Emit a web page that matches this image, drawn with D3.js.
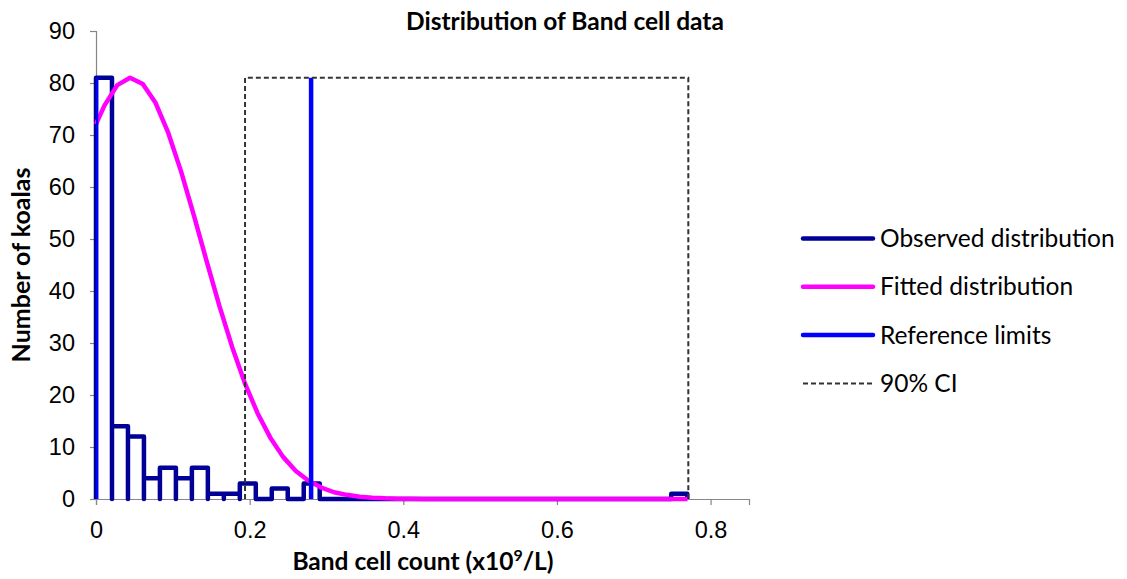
<!DOCTYPE html>
<html>
<head>
<meta charset="utf-8">
<script src="https://cdn.jsdelivr.net/npm/d3@7"></script>
<style>
  body { margin: 0; background: #fff; }
  svg { display: block; font-family: Lato, "Open Sans", sans-serif; }
</style>
</head>
<body>
<div id="chart"></div>
<script>
// observed histogram: 37 bins of equal width starting at 0
const binWidth = 0.0208;
const observedCounts = [81, 14, 12, 4, 6, 4, 6, 1, 1, 3, 0, 2, 0, 3, 0, 0, 0, 0, 0, 0,
  0, 0, 0, 0, 0, 0, 0, 0, 0, 0, 0, 0, 0, 0, 0, 0, 1];

// fitted curve
const fittedX = [0, 0.0111, 0.0277, 0.0443, 0.0609, 0.0775, 0.0941, 0.1107, 0.1273, 0.1439,
  0.1605, 0.1771, 0.1937, 0.2103, 0.2269, 0.2435, 0.2601, 0.2767, 0.2933, 0.3099,
  0.3265, 0.3431, 0.3597, 0.3763, 0.3929, 0.4095, 0.4261, 0.5, 0.6, 0.7, 0.77];
const fittedY = [72.1, 75.7, 79.6, 81.0, 79.8, 76.2, 70.4, 63.0, 54.6, 45.8,
  37.2, 29.3, 22.3, 16.5, 11.8, 8.1, 5.4, 3.5, 2.2, 1.3,
  0.8, 0.45, 0.25, 0.13, 0.07, 0.03, 0.01, 0, 0, 0, 0];

const referenceLimits = [0, 0.28];
const ciLimits = [0.194, 0.771];
const limitHeight = 81;

const xTicks = [0, 0.2, 0.4, 0.6, 0.8];
const yTicks = [0, 10, 20, 30, 40, 50, 60, 70, 80, 90];

const legendItems = ["Observed distribution", "Fitted distribution", "Reference limits", "90% CI"];

const width = 1127, height = 579;
const margin = { top: 31, right: 378, bottom: 80, left: 96 };

const x = d3.scaleLinear().domain([0, 0.85]).range([margin.left, width - margin.right]);
const y = d3.scaleLinear().domain([0, 90]).range([height - margin.bottom, margin.top]);

const svg = d3.select("#chart").append("svg")
  .attr("width", width)
  .attr("height", height);

svg.append("defs").append("clipPath").attr("id", "plot-clip")
  .append("rect")
  .attr("x", x(0)).attr("y", 0)
  .attr("width", x(0.85) - x(0)).attr("height", y(0) + 3);

// axes
const axisColor = "#868686";
const yAxis = svg.append("g")
  .attr("transform", `translate(${x(0)},0)`)
  .call(d3.axisLeft(y).tickValues(yTicks).tickSize(6).tickPadding(15).tickFormat(d3.format("d")));
const xAxis = svg.append("g")
  .attr("transform", `translate(0,${y(0)})`)
  .call(d3.axisBottom(x).tickValues(xTicks).tickSize(6).tickPadding(16)
    .tickFormat(d => d === 0 ? "0" : d3.format(".1f")(d)));

[yAxis, xAxis].forEach(g => {
  g.select(".domain").attr("stroke", axisColor).attr("stroke-width", 1.2);
  g.selectAll(".tick line").attr("stroke", axisColor).attr("stroke-width", 1.2);
  g.selectAll(".tick text").attr("fill", "#000").attr("font-size", 23.5);
});

// observed distribution: each bar outlined down to the baseline
const stepPts = [[0, 0]];
observedCounts.forEach((c, i) => {
  stepPts.push([i * binWidth, c]);
  stepPts.push([(i + 1) * binWidth, c]);
  stepPts.push([(i + 1) * binWidth, 0]);
});

const line = d3.line().x(d => x(d[0])).y(d => y(d[1]));

svg.append("path")
  .datum(stepPts)
  .attr("d", line)
  .attr("fill", "none")
  .attr("stroke", "#000096")
  .attr("stroke-width", 4.5)
  .attr("stroke-linejoin", "round");

svg.append("path")
  .datum(fittedX.map((v, i) => [v, fittedY[i]]))
  .attr("d", line)
  .attr("fill", "none")
  .attr("stroke", "#ff00ff")
  .attr("stroke-width", 4.5)
  .attr("stroke-linejoin", "round");

const plot = svg.append("g").attr("clip-path", "url(#plot-clip)");

plot.selectAll("line.ref")
  .data(referenceLimits)
  .join("line")
  .attr("class", "ref")
  .attr("x1", d => x(d)).attr("x2", d => x(d))
  .attr("y1", y(0)).attr("y2", y(limitHeight))
  .attr("stroke", "#0000ff")
  .attr("stroke-width", 4.5);

svg.append("path")
  .datum([[ciLimits[0], 0], [ciLimits[0], limitHeight], [ciLimits[1], limitHeight], [ciLimits[1], 0]])
  .attr("d", line)
  .attr("fill", "none")
  .attr("stroke", "#333")
  .attr("stroke-width", 2)
  .attr("stroke-dasharray", "5,3");

// titles
svg.append("text")
  .attr("x", 565).attr("y", 30)
  .attr("text-anchor", "middle")
  .attr("font-size", 24.5).attr("font-weight", "bold")
  .text("Distribution of Band cell data");

const xTitle = svg.append("text")
  .attr("x", 423).attr("y", 570)
  .attr("text-anchor", "middle")
  .attr("font-size", 24.5).attr("font-weight", "bold");
xTitle.append("tspan").text("Band cell count (x10");
xTitle.append("tspan").attr("font-size", 16).attr("dy", -9).text("9");
xTitle.append("tspan").attr("dy", 9).text("/L)");

svg.append("text")
  .attr("transform", "translate(30,265) rotate(-90)")
  .attr("text-anchor", "middle")
  .attr("font-size", 25).attr("font-weight", "bold")
  .text("Number of koalas");

// legend
const legendStyles = [
  { stroke: "#000096", width: 4.5, dash: null },
  { stroke: "#ff00ff", width: 4.5, dash: null },
  { stroke: "#0000ff", width: 4.5, dash: null },
  { stroke: "#333", width: 2, dash: "5,3" }
];
const legend = svg.append("g").selectAll("g")
  .data(legendItems)
  .join("g")
  .attr("transform", (d, i) => `translate(803,${238.5 + i * 48.3})`);
legend.append("line")
  .attr("x1", 0).attr("x2", 70)
  .attr("stroke", (d, i) => legendStyles[i].stroke)
  .attr("stroke-width", (d, i) => legendStyles[i].width)
  .attr("stroke-dasharray", (d, i) => legendStyles[i].dash)
  .attr("stroke-linecap", (d, i) => legendStyles[i].dash ? "butt" : "round");
legend.append("text")
  .attr("x", 77).attr("dy", "0.35em")
  .attr("font-size", 24.5)
  .text(d => d);
</script>
</body>
</html>
